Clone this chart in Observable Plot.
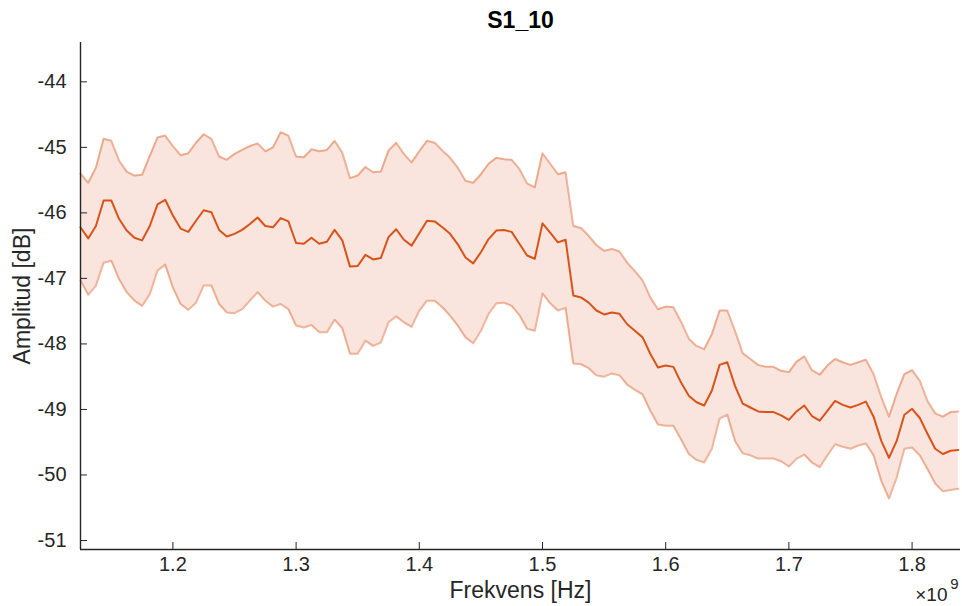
<!DOCTYPE html>
<html>
<head>
<meta charset="utf-8">
<script src="https://cdn.jsdelivr.net/npm/d3@7"></script>
<script src="https://cdn.jsdelivr.net/npm/@observablehq/plot@0.6"></script>
<style>
  html, body { margin: 0; padding: 0; background: #ffffff; }
  #chart { width: 962px; height: 606px; }
</style>
</head>
<body>
<div id="chart"></div>
<script>
// Sweep frequencies (MHz)
const freqMHz = [
  1125, 1131.25, 1137.5, 1143.75, 1150, 1156.25, 1162.5, 1168.75,
  1175, 1181.25, 1187.5, 1193.75, 1200, 1206.25, 1212.5, 1218.75,
  1225, 1231.25, 1237.5, 1243.75, 1250, 1256.25, 1262.5, 1268.75,
  1275, 1281.25, 1287.5, 1293.75, 1300, 1306.25, 1312.5, 1318.75,
  1325, 1331.25, 1337.5, 1343.75, 1350, 1356.25, 1362.5, 1368.75,
  1375, 1381.25, 1387.5, 1393.75, 1400, 1406.25, 1412.5, 1418.75,
  1425, 1431.25, 1437.5, 1443.75, 1450, 1456.25, 1462.5, 1468.75,
  1475, 1481.25, 1487.5, 1493.75, 1500, 1506.25, 1512.5, 1518.75,
  1525, 1531.25, 1537.5, 1543.75, 1550, 1556.25, 1562.5, 1568.75,
  1575, 1581.25, 1587.5, 1593.75, 1600, 1606.25, 1612.5, 1618.75,
  1625, 1631.25, 1637.5, 1643.75, 1650, 1656.25, 1662.5, 1668.75,
  1675, 1681.25, 1687.5, 1693.75, 1700, 1706.25, 1712.5, 1718.75,
  1725, 1731.25, 1737.5, 1743.75, 1750, 1756.25, 1762.5, 1768.75,
  1775, 1781.25, 1787.5, 1793.75, 1800, 1806.25, 1812.5, 1818.75,
  1825, 1831.25, 1837.5
];

// Mean amplitude (dB)
const meanDB = [
  -46.22, -46.39, -46.20, -45.81, -45.81, -46.09, -46.27, -46.38,
  -46.42, -46.20, -45.87, -45.80, -46.04, -46.24, -46.29, -46.12,
  -45.96, -45.99, -46.26, -46.36, -46.32, -46.26, -46.17, -46.07,
  -46.20, -46.22, -46.08, -46.13, -46.46, -46.47, -46.38, -46.47,
  -46.44, -46.26, -46.42, -46.82, -46.81, -46.64, -46.71, -46.69,
  -46.37, -46.25, -46.41, -46.50, -46.31, -46.12, -46.13, -46.22,
  -46.32, -46.48, -46.68, -46.77, -46.60, -46.40, -46.27, -46.26,
  -46.29, -46.47, -46.65, -46.70, -46.16, -46.30, -46.45, -46.41,
  -47.26, -47.29, -47.37, -47.49, -47.55, -47.52, -47.54, -47.70,
  -47.80, -47.90, -48.15, -48.36, -48.33, -48.35, -48.59, -48.79,
  -48.89, -48.94, -48.71, -48.32, -48.28, -48.64, -48.91, -48.97,
  -49.03, -49.04, -49.04, -49.09, -49.16, -49.03, -48.94, -49.10,
  -49.17, -49.02, -48.87, -48.93, -48.97, -48.93, -48.88, -49.11,
  -49.48, -49.74, -49.48, -49.08, -48.99, -49.13, -49.37, -49.60,
  -49.68, -49.63, -49.62
];

// Upper bound of the spread (dB)
const upperDB = [
  -45.40, -45.54, -45.31, -44.87, -44.90, -45.20, -45.37, -45.43,
  -45.42, -45.13, -44.85, -44.82, -44.98, -45.12, -45.09, -44.93,
  -44.80, -44.87, -45.14, -45.19, -45.10, -45.04, -44.98, -44.94,
  -45.06, -45.00, -44.77, -44.82, -45.14, -45.15, -45.03, -45.06,
  -45.04, -44.90, -45.08, -45.47, -45.43, -45.30, -45.38, -45.37,
  -45.05, -44.93, -45.10, -45.23, -45.06, -44.90, -44.93, -45.05,
  -45.16, -45.31, -45.51, -45.54, -45.41, -45.25, -45.16, -45.18,
  -45.19, -45.33, -45.55, -45.61, -45.09, -45.25, -45.41, -45.38,
  -46.20, -46.23, -46.35, -46.49, -46.58, -46.55, -46.59, -46.76,
  -46.89, -47.03, -47.29, -47.47, -47.43, -47.44, -47.66, -47.92,
  -48.03, -48.08, -47.85, -47.49, -47.49, -47.80, -48.14, -48.23,
  -48.32, -48.35, -48.35, -48.41, -48.43, -48.27, -48.19, -48.40,
  -48.47, -48.33, -48.23, -48.28, -48.32, -48.28, -48.24, -48.46,
  -48.81, -49.11, -48.76, -48.46, -48.40, -48.56, -48.87, -49.06,
  -49.11, -49.04, -49.03
];

// Lower bound of the spread (dB)
const lowerDB = [
  -47.03, -47.25, -47.11, -46.76, -46.73, -47.01, -47.21, -47.34,
  -47.42, -47.24, -46.88, -46.79, -47.14, -47.39, -47.48, -47.37,
  -47.11, -47.11, -47.39, -47.52, -47.53, -47.47, -47.34, -47.21,
  -47.34, -47.43, -47.39, -47.47, -47.72, -47.75, -47.71, -47.82,
  -47.82, -47.63, -47.76, -48.15, -48.15, -47.95, -48.03, -47.98,
  -47.67, -47.58, -47.67, -47.74, -47.49, -47.34, -47.34, -47.44,
  -47.57, -47.72, -47.90, -47.99, -47.80, -47.54, -47.38, -47.37,
  -47.42, -47.56, -47.77, -47.80, -47.23, -47.38, -47.49, -47.45,
  -48.30, -48.31, -48.37, -48.48, -48.50, -48.45, -48.48, -48.62,
  -48.70, -48.77, -49.02, -49.23, -49.25, -49.25, -49.46, -49.68,
  -49.77, -49.81, -49.60, -49.14, -49.08, -49.48, -49.67, -49.70,
  -49.75, -49.75, -49.75, -49.79, -49.87, -49.75, -49.69, -49.81,
  -49.88, -49.70, -49.53, -49.57, -49.60, -49.55, -49.52, -49.70,
  -50.09, -50.36, -50.04, -49.60, -49.58, -49.70, -49.91, -50.13,
  -50.25, -50.23, -50.21
];

// Axis ticks (x in units of 10^9 Hz)
const xTicks = [1.2, 1.3, 1.4, 1.5, 1.6, 1.7, 1.8];
const yTicks = [-51, -50, -49, -48, -47, -46, -45, -44];

const xDomain = [1.125, 1.8393];
const yDomain = [-51.137, -43.40];

const rows = freqMHz.map((f, i) => ({
  f: f / 1000,
  mean: meanDB[i],
  upper: upperDB[i],
  lower: lowerDB[i]
}));

const accent = "#D95319";
const ink = "#262626";

// centred text placed in the margins around the frame
const label = (s, o) => Plot.text([s], {textAnchor: "middle", lineAnchor: "middle", fill: ink, ...o});

const chart = Plot.plot({
  width: 962,
  height: 606,
  marginLeft: 80,
  marginRight: 2,
  marginTop: 42,
  marginBottom: 57,
  style: {
    fontFamily: "'Liberation Sans', Helvetica, Arial, sans-serif",
    fontSize: "20px",
    color: ink,
    background: "#ffffff"
  },
  x: {domain: xDomain},
  y: {domain: yDomain},
  marks: [
    // shaded spread
    Plot.areaY(rows, {x: "f", y1: "lower", y2: "upper", fill: accent, fillOpacity: 0.15}),
    Plot.lineY(rows, {x: "f", y: "upper", stroke: accent, strokeOpacity: 0.42, strokeWidth: 2}),
    Plot.lineY(rows, {x: "f", y: "lower", stroke: accent, strokeOpacity: 0.42, strokeWidth: 2}),
    // mean curve
    Plot.lineY(rows, {x: "f", y: "mean", stroke: accent, strokeWidth: 2}),
    // axes with inward ticks
    Plot.axisY(yTicks, {tickSize: -7, tickPadding: 21, fontSize: 20, tickFormat: d => String(d), label: null, stroke: ink, fill: ink}),
    Plot.axisX(xTicks, {tickSize: -7, tickPadding: 14, fontSize: 20, tickFormat: d => d.toFixed(1), label: null, stroke: ink, fill: ink}),
    Plot.ruleX([xDomain[0]], {stroke: ink, strokeWidth: 1.4}),
    Plot.ruleY([yDomain[0]], {stroke: ink, strokeWidth: 1.4}),
    // titles
    label("S1_10", {frameAnchor: "top", dy: -22, fontWeight: "bold", fontSize: 23, fill: "#000000"}),
    label("Amplitud [dB]", {frameAnchor: "left", dx: -58, rotate: -90, fontSize: 23}),
    label("Frekvens [Hz]", {frameAnchor: "bottom", dy: 41, fontSize: 23}),
    label("\u00d710", {frameAnchor: "bottom-right", dx: -13, dy: 45, textAnchor: "end", fontSize: 19}),
    label("9", {frameAnchor: "bottom-right", dx: -2, dy: 35, textAnchor: "end", fontSize: 15})
  ]
});

document.getElementById("chart").appendChild(chart);
</script>
</body>
</html>
